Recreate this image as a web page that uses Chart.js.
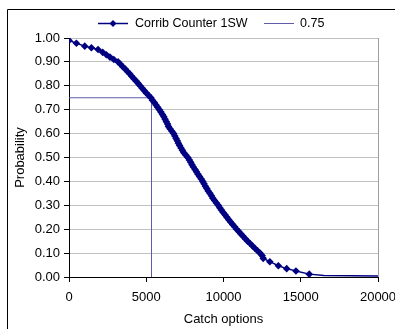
<!DOCTYPE html>
<html lang="en">
<head>
    <meta charset="UTF-8">
    <title>Corrib Counter 1SW</title>
    <script src="https://cdn.jsdelivr.net/npm/chart.js@4.4.0/dist/chart.umd.min.js"></script>
    <style>
        html, body{ margin: 0; padding: 0; background: #fff; }
        .chart{ width: 395px; height: 329px; }
    </style>
</head>
<body>
    <div class="chart">
        <canvas id="catchChart" width="395" height="329"></canvas>
    </div>
</body>
</html>

<script>
    // values
    var seriesName = 'Corrib Counter 1SW';
    var refName = '0.75';

    var catchX = [0, 480, 1020, 1450, 1880, 2180, 2420, 2650, 2900, 3180,
        3330, 3480, 3640, 3780, 3930, 4060, 4200, 4340, 4480, 4600,
        4740, 4870, 5000, 5150, 5300, 5400, 5520, 5630, 5740, 5850,
        5950, 6050, 6140, 6220, 6300, 6380, 6440, 6540, 6660, 6770,
        6850, 6930, 7010, 7080, 7160, 7250, 7340, 7430, 7560, 7690,
        7790, 7880, 7960, 8050, 8160, 8250, 8350, 8450, 8560, 8660,
        8740, 8830, 8920, 9010, 9120, 9220, 9310, 9420, 9540, 9660,
        9760, 9870, 9980, 10100, 10220, 10340, 10460, 10590, 10720, 10850,
        10990, 11130, 11270, 11410, 11560, 11720, 11880, 12030, 12200, 12360,
        12500, 12570, 13000, 13550, 14090, 14690, 15550, 16500, 20000];
    var probY = [0.99, 0.978, 0.966, 0.959, 0.952, 0.94, 0.93, 0.92, 0.91, 0.90,
        0.89, 0.88, 0.87, 0.86, 0.85, 0.84, 0.83, 0.82, 0.81, 0.80,
        0.79, 0.78, 0.77, 0.76, 0.75, 0.74, 0.73, 0.72, 0.71, 0.70,
        0.69, 0.68, 0.67, 0.66, 0.65, 0.64, 0.63, 0.62, 0.61, 0.60,
        0.59, 0.58, 0.57, 0.56, 0.55, 0.54, 0.53, 0.52, 0.51, 0.50,
        0.49, 0.48, 0.47, 0.46, 0.45, 0.44, 0.43, 0.42, 0.41, 0.40,
        0.39, 0.38, 0.37, 0.36, 0.35, 0.34, 0.33, 0.32, 0.31, 0.30,
        0.29, 0.28, 0.27, 0.26, 0.25, 0.24, 0.23, 0.22, 0.21, 0.20,
        0.19, 0.18, 0.17, 0.16, 0.15, 0.14, 0.13, 0.12, 0.11, 0.10,
        0.09, 0.078, 0.064, 0.047, 0.035, 0.025, 0.012, 0.006, 0.004];

    // the 0.75 guide line
    var refX = [0, 5340, 5340];
    var refY = [0.75, 0.75, 0];

    var xTicks = [0, 5000, 10000, 15000, 20000];
    var yTicks = [0, 0.1, 0.2, 0.3, 0.4, 0.5, 0.6, 0.7, 0.8, 0.9, 1.0];

    var navy = '#000080';
    var refColor = '#5c5ca8';
    var family = 'Liberation Sans, Arial, sans-serif';
    var font = { family: family, size: 13 };

    function toPoints(xs, ys){
        return xs.map(function(x, i){ return { x: x, y: ys[i] }; });
    }

    // frame, plot border and legend drawn by hand, Excel style
    var excelBits = {
        id: 'excelBits',
        beforeDatasetsDraw: function(chart){
            var ctx = chart.ctx, a = chart.chartArea;
            ctx.save();
            ctx.strokeStyle = '#a0a0a0';
            ctx.lineWidth = 1;
            ctx.beginPath();
            ctx.moveTo(Math.round(a.right) + 0.5, a.top);
            ctx.lineTo(Math.round(a.right) + 0.5, a.bottom);
            ctx.stroke();
            ctx.restore();
        },
        afterDraw: function(chart){
            var ctx = chart.ctx;
            ctx.save();
            // outer frame
            ctx.strokeStyle = '#000';
            ctx.lineWidth = 1;
            ctx.beginPath();
            ctx.moveTo(7.5, 329);
            ctx.lineTo(7.5, 9.5);
            ctx.lineTo(395, 9.5);
            ctx.stroke();

            // legend
            var ly = 23.5;
            ctx.strokeStyle = navy;
            ctx.lineWidth = 1.5;
            ctx.beginPath();
            ctx.moveTo(98, ly);
            ctx.lineTo(128, ly);
            ctx.stroke();
            ctx.fillStyle = navy;
            ctx.beginPath();
            ctx.moveTo(113, ly - 3.5);
            ctx.lineTo(116.5, ly);
            ctx.lineTo(113, ly + 3.5);
            ctx.lineTo(109.5, ly);
            ctx.closePath();
            ctx.fill();

            ctx.strokeStyle = refColor;
            ctx.lineWidth = 1;
            ctx.beginPath();
            ctx.moveTo(264, ly);
            ctx.lineTo(294, ly);
            ctx.stroke();

            ctx.fillStyle = '#000';
            ctx.font = '12.5px ' + family;
            ctx.textBaseline = 'middle';
            ctx.fillText(seriesName, 135, ly);
            ctx.fillText(refName, 300, ly);
            ctx.restore();
        }
    };

    var canvas = document.getElementById('catchChart');
    var catchChart = new Chart(canvas, {
        type: 'scatter',
        data: {
            datasets: [
                {
                    label: seriesName,
                    data: toPoints(catchX, probY),
                    showLine: true,
                    borderColor: navy,
                    backgroundColor: navy,
                    borderWidth: 1.5,
                    pointStyle: 'rectRot',
                    // the last two points of the tail show no marker in the original
                    pointRadius: catchX.map(function(x){ return x > 16000 ? 0 : 3.8; }),
                    pointBorderWidth: 0,
                    tension: 0
                },
                {
                    label: refName,
                    data: toPoints(refX, refY),
                    showLine: true,
                    borderColor: refColor,
                    borderWidth: 1,
                    pointRadius: 0,
                    tension: 0
                }
            ]
        },
        options: {
            responsive: false,
            animation: false,
            layout: { padding: { top: 38, right: 0, left: 13, bottom: 0 } },
            plugins: {
                legend: { display: false },
                tooltip: { enabled: false }
            },
            scales: {
                x: {
                    type: 'linear',
                    min: 0,
                    max: 20000,
                    afterBuildTicks: function(s){ s.ticks = xTicks.map(function(v){ return { value: v }; }); },
                    afterFit: function(s){ s.height = 52; s.paddingRight = 17; s.paddingLeft = 0; },
                    grid: { drawOnChartArea: false, tickColor: '#000', tickLength: 5 },
                    border: { color: '#000', width: 1 },
                    ticks: {
                        color: '#000', font: font, padding: 8, maxRotation: 0,
                        callback: function(v){ return String(v); }
                    },
                    title: { display: true, text: 'Catch options', color: '#000', font: font, padding: { top: 0, bottom: 2 } }
                },
                y: {
                    min: 0,
                    max: 1,
                    afterBuildTicks: function(s){ s.ticks = yTicks.map(function(v){ return { value: v }; }); },
                    afterFit: function(s){ s.width = 56; },
                    grid: { color: '#c0c0c0', tickColor: '#000', tickLength: 5 },
                    border: { color: '#000', width: 1 },
                    ticks: {
                        color: '#000',
                        font: font,
                        padding: 4,
                        callback: function(v){ return v.toFixed(2); }
                    },
                    title: { display: true, text: 'Probability', color: '#000', font: font, padding: { top: 0, bottom: 0 } }
                }
            }
        },
        plugins: [excelBits]
    });
</script>
